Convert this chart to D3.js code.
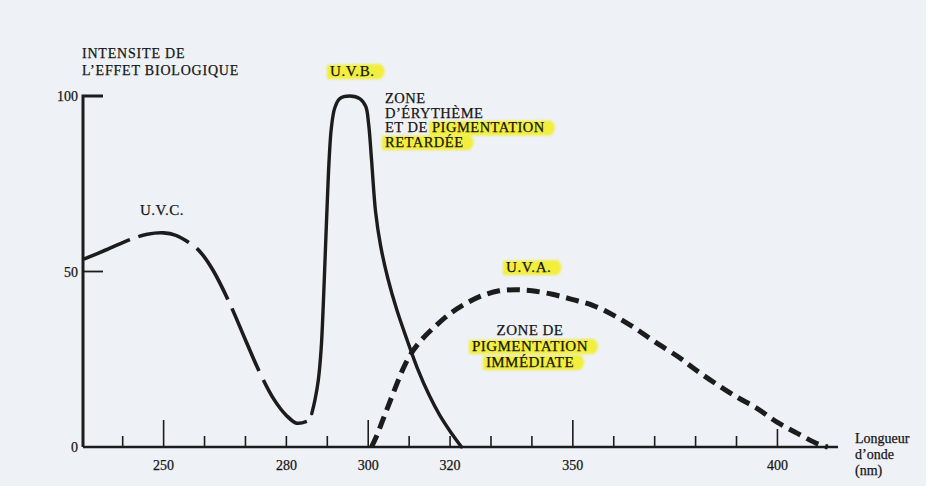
<!DOCTYPE html>
<html>
<head>
<meta charset="utf-8">
<script src="https://cdn.jsdelivr.net/npm/d3@7"></script>
<style>
  html, body { margin: 0; padding: 0; background: #eef1f5; }
  svg { display: block; }
  text { font-family: "Liberation Serif", "Times New Roman", serif; fill: #161616; stroke: #161616; stroke-width: 0.25; }
</style>
</head>
<body>
<svg id="chart" width="926" height="486"></svg>
<script>
// ---------- data ----------
const uvcWavelength = [230.5, 236, 242, 246, 250, 253, 256.5, 259, 262, 266, 270, 273.5, 277, 280, 282.5, 285];
const uvcIntensity  = [53.5, 56.2, 59.2, 60.6, 61, 60.3, 58, 55.5, 50.5, 41.3, 30.5, 21.2, 13.5, 9, 6.8, 7.3];

const uvbWavelength = [286.2, 287, 287.8, 288.5, 289, 289.5, 290, 290.5, 291, 291.8, 293, 295.5, 298, 299.4, 300.1, 300.8, 301.8, 303, 304.8, 307, 309.5, 312, 315, 317.5, 320, 322.8];
const uvbIntensity  = [9.5, 13.5, 19, 28, 40, 55, 70, 83, 91, 96.5, 99.2, 100, 99.2, 97, 92, 82, 67, 57.5, 48, 39, 30.5, 22.5, 14.5, 9, 4.5, 0];

const uvaWavelength = [300.8, 302, 303.5, 305, 307, 309, 311, 313, 316, 320, 324, 328, 332, 336, 340, 345, 350, 355, 360, 365, 370, 376, 380, 385, 390, 395, 400, 405, 410, 412.3];
const uvaIntensity  = [0, 3, 7.5, 12, 18, 23.5, 27.5, 30.5, 34, 38, 41, 43.2, 44.5, 44.8, 44.5, 43.5, 42, 40.3, 37.5, 34, 30, 25.5, 22, 18, 14.3, 11, 7, 3.8, 0.8, 0];

const xMinorTicks = d3.range(240, 401, 10);
const xTickLabels = [250, 280, 300, 320, 350, 400];
const yTickValues = [0, 50, 100];

const yTitle = ["INTENSITE DE", "L\u2019EFFET BIOLOGIQUE"];
const xTitle = ["Longueur", "d\u2019onde", "(nm)"];
const zoneUVB = [["ZONE"], ["D\u2019\u00C9RYTH\u00C8ME"], ["ET DE ", "PIGMENTATION"], ["", "RETARD\u00C9E"]];
const zoneUVA = [["ZONE DE"], ["", "PIGMENTATION"], ["", "IMM\u00C9DIATE"]];

// ---------- layout ----------
const svg = d3.select("#chart");
const x = d3.scaleLinear().domain([230.3, 414.8]).range([83, 838]);
const y = d3.scaleLinear().domain([0, 100]).range([447, 96]);

const defs = svg.append("defs");
defs.append("filter").attr("id", "soft")
  .attr("x", "-20%").attr("y", "-50%").attr("width", "140%").attr("height", "200%")
  .append("feGaussianBlur").attr("stdDeviation", 1.1);

const hlLayer = svg.append("g");
const ink = "#1c1c1c";

// ---------- axes ----------
const xAxis = svg.append("g");
xAxis.append("line")
  .attr("x1", x(230.3)).attr("x2", x(414.8))
  .attr("y1", y(0)).attr("y2", y(0))
  .attr("stroke", ink).attr("stroke-width", 2.6);
const tickLen = d => d === 400 ? 18 : (d % 50 === 0 ? 27 : 11);
xAxis.selectAll("line.tick").data(xMinorTicks).join("line")
  .attr("class", "tick")
  .attr("x1", d => x(d)).attr("x2", d => x(d))
  .attr("y1", y(0)).attr("y2", d => y(0) - tickLen(d))
  .attr("stroke", ink).attr("stroke-width", 1.6);
xAxis.selectAll("text").data(xTickLabels).join("text")
  .attr("x", d => x(d)).attr("y", 470)
  .attr("text-anchor", "middle").attr("font-size", 14)
  .text(d => d);

const yAxis = svg.append("g");
yAxis.append("path")
  .attr("d", `M${x(230.3) + 20},${y(100)} H${x(230.3)} V${y(0)}`)
  .attr("fill", "none").attr("stroke", ink).attr("stroke-width", 3);
yAxis.append("line")
  .attr("x1", x(230.3)).attr("x2", x(230.3) + 20)
  .attr("y1", y(50)).attr("y2", y(50))
  .attr("stroke", ink).attr("stroke-width", 1.8);
yAxis.selectAll("text").data(yTickValues).join("text")
  .attr("x", 78).attr("y", d => y(d) + 5)
  .attr("text-anchor", "end").attr("font-size", 14)
  .text(d => d);

// ---------- curves ----------
const line = d3.line().x(d => x(d[0])).y(d => y(d[1])).curve(d3.curveCatmullRom.alpha(0.5));

svg.append("path")
  .datum(d3.zip(uvcWavelength, uvcIntensity))
  .attr("d", line).attr("fill", "none").attr("stroke", ink)
  .attr("stroke-width", 3.6).attr("stroke-dasharray", "50,9,53,10,60,10,68,10,70");

svg.append("path")
  .datum(d3.zip(uvbWavelength, uvbIntensity))
  .attr("d", line).attr("fill", "none").attr("stroke", ink)
  .attr("stroke-width", 3.4).attr("stroke-linecap", "round");

svg.append("path")
  .datum(d3.zip(uvaWavelength, uvaIntensity))
  .attr("d", line).attr("fill", "none").attr("stroke", ink)
  .attr("stroke-width", 5).attr("stroke-dasharray", "13,7");

// ---------- text helpers ----------
function addLine(parts, px, py, opts) {
  const t = svg.append("text")
    .attr("x", px).attr("y", py)
    .attr("font-size", opts.size || 14)
    .attr("letter-spacing", opts.ls || 0)
    .attr("text-anchor", opts.anchor || "start");
  parts.forEach(p => t.append("tspan").text(p));
  if (opts.hl) {
    const node = t.node();
    const full = parts.join("");
    const start = parts.length > 1 ? parts[0].length : 0;
    const end = full.length - 1;
    const x0 = node.getStartPositionOfChar(start).x;
    const x1 = node.getEndPositionOfChar(end).x;
    hlLayer.append("path")
      .attr("d", `M${x0 - 3},${py - 11} L${x1 + 6},${py - 12} Q${x1 + 14},${py - 5} ${x1 + 6},${py + 3} L${x0 - 3},${py + 3} Z`)
      .attr("fill", "#f2ee2c").attr("opacity", 0.9)
      .attr("filter", "url(#soft)");
  }
  return t;
}

yTitle.forEach((s, i) => addLine([s], 82, 58 + i * 17, { size: 14, ls: 0.8 }));
xTitle.forEach((s, i) => addLine([s], 855, 443 + i * 16, { size: 14 }));

addLine(["U.V.C."], 140, 215, { size: 15, ls: 0.5 });
addLine(["", "U.V.B."], 330, 76, { size: 15, ls: 0.6, hl: true });
addLine(["", "U.V.A."], 506, 272, { size: 15, ls: 0.6, hl: true });

zoneUVB.forEach((parts, i) => addLine(parts, 385, 103 + i * 14.7, { size: 14.5, ls: 0.5, hl: parts.length > 1 }));
zoneUVA.forEach((parts, i) => addLine(parts, 530, 335 + i * 16, { size: 15, ls: 0.45, anchor: "middle", hl: parts.length > 1 }));
</script>
</body>
</html>
